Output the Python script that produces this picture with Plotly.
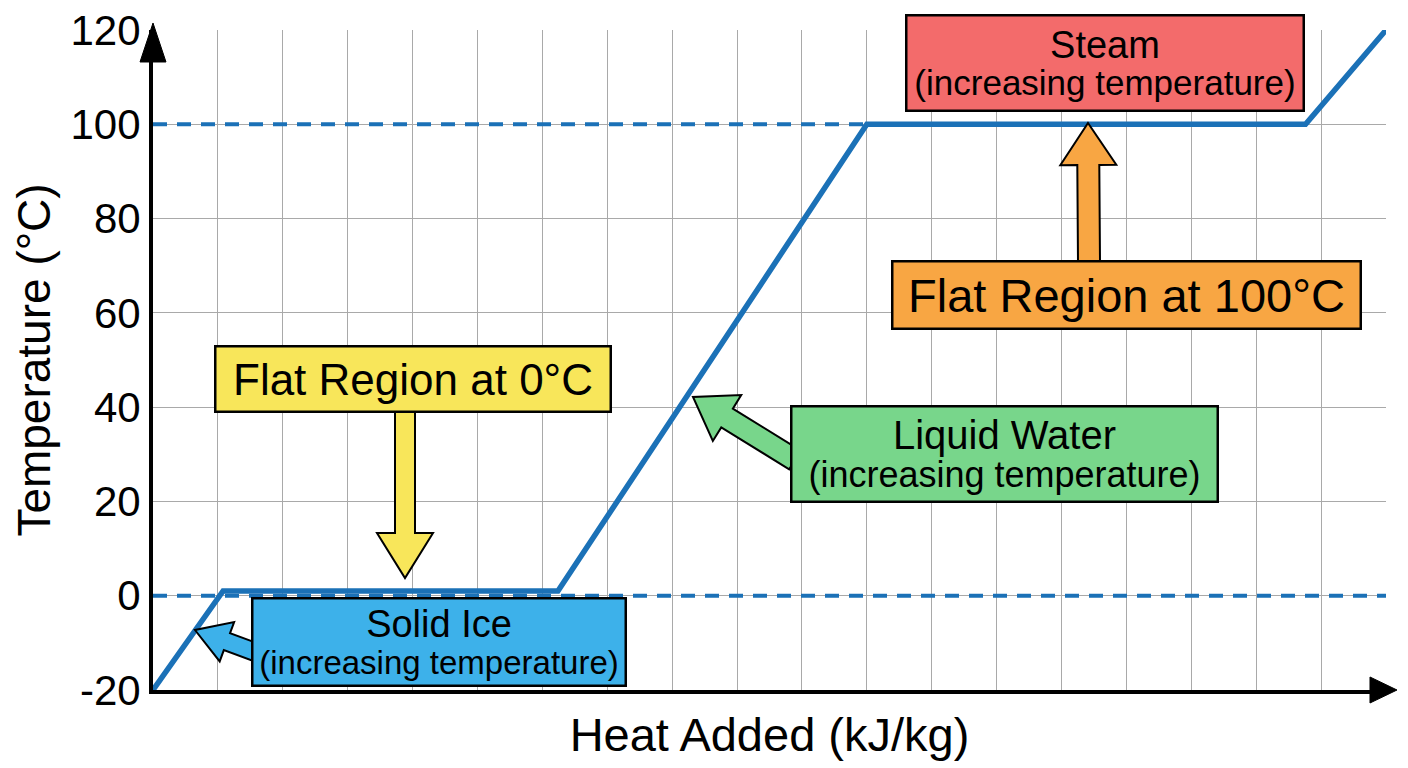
import math
import plotly.graph_objects as go

# heating curve of water
heat_added = [0, 54, 312, 550, 888, 950]
temperature = [-20, 1, 1, 100, 100, 120]

ref_levels = [0, 100]
ref_heat_end = [950, 550]

y_ticks = [-20, 0, 20, 40, 60, 80, 100, 120]
y_tick_text = ["-20", "0", "20", "40", "60", "80", "100", "120"]

FONT = "Liberation Sans, Arial, Helvetica, sans-serif"
BLUE = "#1b71b7"

# the page body has an 8px margin, so the figure is 8px smaller than the window
OFF = 8
W, H = 1408 - OFF, 768 - OFF
L, R, T, B = 153 - OFF, 22, 30 - OFF, 78
PW, PH = W - L - R, H - T - B


def to_paper(px, py):
    # window pixel -> paper coords
    fx, fy = px - OFF, py - OFF
    return (fx - L) / PW, (H - B - fy) / PH


def arrow_path(x0, y0, x1, y1, shaft, head_w, head_l):
    dx, dy = x1 - x0, y1 - y0
    n = math.hypot(dx, dy)
    ux, uy = dx / n, dy / n
    nx, ny = -uy, ux
    bx, by = x1 - ux * head_l, y1 - uy * head_l
    pts = [
        (x0 + nx * shaft, y0 + ny * shaft),
        (bx + nx * shaft, by + ny * shaft),
        (bx + nx * head_w, by + ny * head_w),
        (x1, y1),
        (bx - nx * head_w, by - ny * head_w),
        (bx - nx * shaft, by - ny * shaft),
        (x0 - nx * shaft, y0 - ny * shaft),
    ]
    out = []
    for i, (px, py) in enumerate(pts):
        qx, qy = to_paper(px, py)
        out.append(("M" if i == 0 else "L") + f"{qx:.5f},{qy:.5f}")
    return " ".join(out) + " Z"


def box(cx, cy, w, h, text, color, size):
    qx, qy = to_paper(cx, cy)
    return dict(
        x=qx, y=qy, xref="paper", yref="paper",
        xanchor="center", yanchor="middle",
        text=text, showarrow=False,
        width=w - 5, height=h - 5,
        bgcolor=color, bordercolor="black", borderwidth=2.5, borderpad=0,
        font=dict(family=FONT, size=size, color="black"),
        align="center", valign="middle",
    )


def two_lines(head, head_size, sub_size):
    # base font stays small so the line spacing is tight, spans set real sizes
    return (f"<span style='font-size:{head_size}px'>{head}</span><br>"
            f"<span style='font-size:{sub_size}px'>(increasing temperature)</span>")


fig = go.Figure()

for lvl, end in zip(ref_levels, ref_heat_end):
    fig.add_trace(
        go.Scatter(
            x=[0, end], y=[lvl, lvl], mode="lines",
            line=dict(color=BLUE, width=4, dash="14px,10px"),
            hoverinfo="skip", showlegend=False,
        )
    )

fig.add_trace(
    go.Scatter(
        x=heat_added, y=temperature, mode="lines",
        line=dict(color=BLUE, width=5.5),
        name="Heating curve", showlegend=False,
    )
)

shapes = []
# fat call-out arrows
arrows = [
    ((405, 410), (405, 578), 10, 28, 45, "#f8e65a"),
    ((1089, 262), (1088, 123), 11, 28, 42, "#f8a643"),
    ((795, 460), (693, 397), 11, 27, 40, "#78d68b"),
    ((255, 652), (195, 630), 9, 21, 34, "#3db1ea"),
]
for (x0, y0), (x1, y1), s, hw, hl, c in arrows:
    shapes.append(dict(
        type="path", xref="paper", yref="paper",
        path=arrow_path(x0, y0, x1, y1, s, hw, hl),
        fillcolor=c, line=dict(color="black", width=2), layer="above",
    ))

# axis arrow heads
for tri in [[(153, 23), (140, 62), (166, 62)], [(1397, 690), (1370, 677), (1370, 703)]]:
    p = " ".join(
        ("M" if i == 0 else "L") + "{:.5f},{:.5f}".format(*to_paper(*pt))
        for i, pt in enumerate(tri)
    ) + " Z"
    shapes.append(dict(type="path", xref="paper", yref="paper", path=p,
                       fillcolor="black", line=dict(color="black", width=1), layer="above"))

annotations = [
    box(1105, 63, 400, 98, two_lines("Steam", 38, 35), "#f36b6b", 29),
    box(1126, 295, 471, 70, "Flat Region at 100°C", "#f8a643", 47),
    box(413, 379, 398, 68, "Flat Region at 0°C", "#f8e65a", 44),
    box(1004, 454, 429, 98, two_lines("Liquid Water", 40, 36), "#78d68b", 29),
    box(439, 642, 376, 90, two_lines("Solid Ice", 38, 33), "#3db1ea", 29),
]

fig.update_layout(
    width=W, height=H,
    margin=dict(l=L, r=R, t=T, b=B),
    plot_bgcolor="white", paper_bgcolor="white",
    font=dict(family=FONT, color="black"),
    shapes=shapes, annotations=annotations,
    showlegend=False,
)
fig.update_xaxes(
    range=[0, 950], dtick=50, showticklabels=False, ticks="",
    showgrid=True, gridcolor="#a9a9a9", gridwidth=1, zeroline=False,
    showline=True, linecolor="black", linewidth=4,
    title=dict(text="Heat Added (kJ/kg)", font=dict(size=47), standoff=26),
    automargin=False,
)
fig.update_yaxes(
    range=[-20, 120], tickvals=y_ticks, ticktext=y_tick_text,
    ticks="", ticklabelstandoff=0, tickfont=dict(size=42),
    ticklabeloverflow="allow",
    showgrid=True, gridcolor="#a9a9a9", gridwidth=1, zeroline=False,
    showline=True, linecolor="black", linewidth=4,
    title=dict(text="Temperature (°C)", font=dict(size=46), standoff=14),
    automargin=False,
)

fig.write_html("out.html")
